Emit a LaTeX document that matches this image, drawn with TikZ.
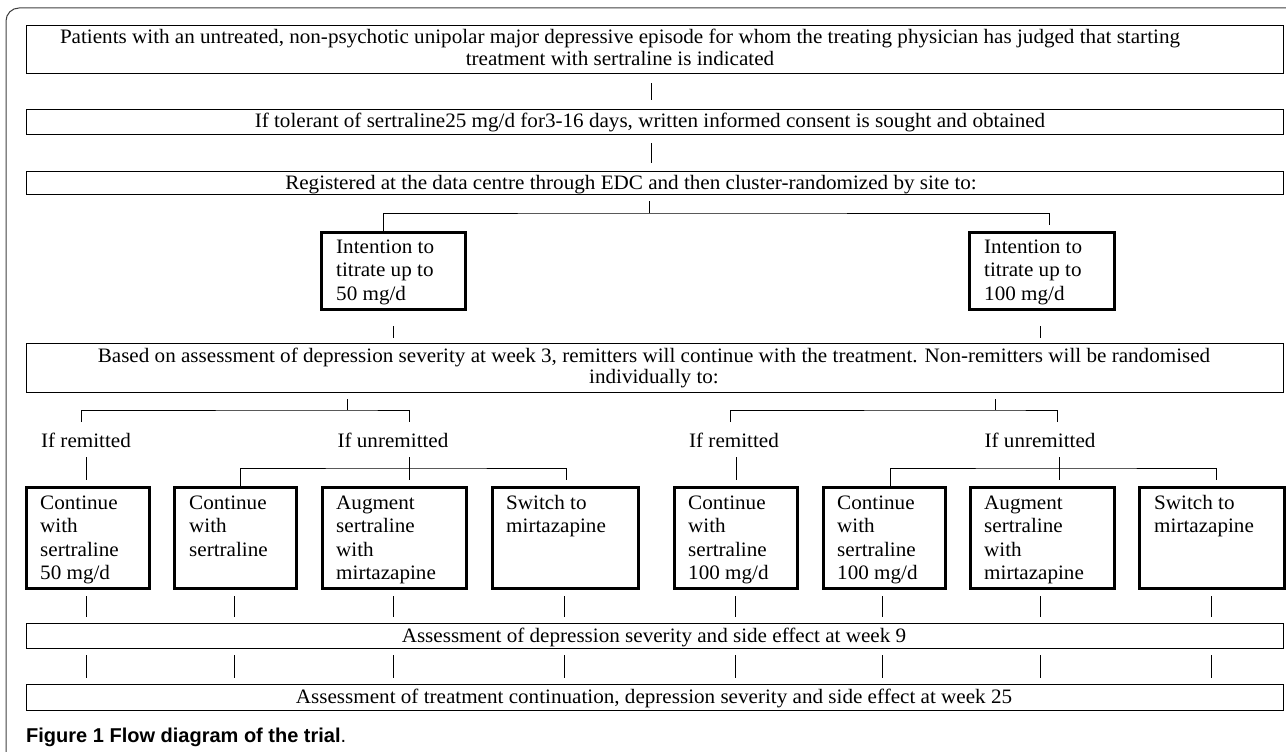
\documentclass[tikz,border=0pt]{standalone}
\usepackage{fontspec}
\setmainfont[FakeStretch=1.03]{Liberation Serif}
\newfontfamily\capfont{Liberation Sans}
\begin{document}
\begin{tikzpicture}[x=1pt,y=-1pt,
  wide/.style={draw, line width=1.1pt, anchor=north west, inner sep=0pt, minimum width=1257pt},
  tbox/.style={draw, line width=3.4pt, anchor=north west, inner sep=0pt, minimum height=101pt},
  ibox/.style={draw, line width=3.4pt, anchor=north west, inner sep=0pt, minimum height=77pt},
  conn/.style={line width=1pt},
  tx/.style={inner sep=0pt, anchor=base, font=\fontsize{20.5}{22}\selectfont},
  ltx/.style={inner sep=0pt, anchor=base west, align=left, font=\fontsize{20.5}{23.5}\selectfont},
]
\useasboundingbox (0,0) rectangle (1286,752);
\draw[line width=1pt, black!75, rounded corners=13pt] (6,752) -- (6,8) -- (1286,8);

% wide boxes
\node[wide, minimum height=48pt] (b1) at (26,25) {};
\node[wide, minimum height=25pt] (b2) at (26,109) {};
\node[wide, minimum height=23pt] (b3) at (26,171) {};
\node[wide, minimum height=49pt] (b4) at (26,343) {};
\node[wide, minimum height=25pt] (b9) at (26,623) {};
\node[wide, minimum height=26pt] (b25) at (26,684) {};

\node[tx, align=center] (t1) at (620,66) {Patients with an untreated, non-psychotic unipolar major depressive episode for whom the treating physician has judged that starting\\treatment with sertraline is indicated};
\node[tx] (t2) at (650,127) {If tolerant of sertraline25 mg/d for3-16 days, written informed consent is sought and obtained};
\node[tx] (t3) at (631,189) {Registered at the data centre through EDC and then cluster-randomized by site to:};
\node[tx, align=center, font=\fontsize{20.5}{21}\selectfont] (t4) at (654,383) {Based on assessment of depression severity at week 3, remitters will continue with the treatment. Non-remitters will be randomised\\individually to:};
\node[tx] (t9) at (654,642) {Assessment of depression severity and side effect at week 9};
\node[tx] (t25) at (654,703) {Assessment of treatment continuation, depression severity and side effect at week 25};

% intention boxes
\node[ibox, minimum width=144pt] (IL) at (320,231) {};
\node[ibox, minimum width=145pt] (IR) at (968,231) {};
\node[ltx] (tIL) at (336,300) {Intention to\\titrate up to\\50 mg/d};
\node[ltx] (tIR) at (984,300) {Intention to\\titrate up to\\100 mg/d};

% labels
\node[tx] (rL) at (86,447) {If remitted};
\node[tx] (uL) at (393,447) {If unremitted};
\node[tx] (rR) at (734,447) {If remitted};
\node[tx] (uR) at (1040,447) {If unremitted};

% bottom boxes
\node[tbox, minimum width=123pt] (A) at (25,486) {};
\node[tbox, minimum width=122pt] (B) at (173,486) {};
\node[tbox, minimum width=144pt] (C) at (321,486) {};
\node[tbox, minimum width=146pt] (D) at (491,486) {};
\node[tbox, minimum width=123pt] (E) at (673,486) {};
\node[tbox, minimum width=122pt] (F) at (822,486) {};
\node[tbox, minimum width=144pt] (G) at (969,486) {};
\node[tbox, minimum width=145pt] (H) at (1138,486) {};

\node[ltx] (tA) at (40,579.5) {Continue\\with\\sertraline\\50 mg/d};
\node[ltx] (tB) at (189,556) {Continue\\with\\sertraline};
\node[ltx] (tC) at (336,579.5) {Augment\\sertraline\\with\\mirtazapine};
\node[ltx] (tD) at (506,532.5) {Switch to\\mirtazapine};
\node[ltx] (tE) at (688,579.5) {Continue\\with\\sertraline\\100 mg/d};
\node[ltx] (tF) at (837,579.5) {Continue\\with\\sertraline\\100 mg/d};
\node[ltx] (tG) at (984,579.5) {Augment\\sertraline\\with\\mirtazapine};
\node[ltx] (tH) at (1154,532.5) {Switch to\\mirtazapine};

% caption
\node[inner sep=0pt, anchor=base west, font=\capfont\fontsize{20}{22}\selectfont] (cap) at (26,742) {\textbf{Figure 1 Flow diagram of the trial}.};

% connectors top
\draw[conn, shorten <=9pt, shorten >=9pt] (b1.south -| 651,0) -- (b2.north -| 651,0);
\draw[conn, shorten <=8pt, shorten >=8pt] (b2.south -| 651,0) -- (b3.north -| 651,0);
\coordinate (s1) at (649,213);
\draw[conn, shorten <=6pt] (b3.south -| s1) -- (s1);
\draw[conn, shorten >=6pt] (IL.north -| 383,0) |- (s1) -| (IR.north -| 1049,0);
\draw[conn, shorten <=15pt, shorten >=5pt] (IL.south -| 393,0) -- (b4.north -| 393,0);
\draw[conn, shorten <=15pt, shorten >=5pt] (IR.south -| 1040,0) -- (b4.north -| 1040,0);

% split below b4
\coordinate (s2) at (347,410);
\coordinate (s3) at (995,410);
\draw[conn, shorten <=6pt] (b4.south -| s2) -- (s2);
\draw[conn] (81,422) |- (s2) -| (409,422);
\draw[conn, shorten <=6pt] (b4.south -| s3) -- (s3);
\draw[conn] (730,422) |- (s3) -| (1057,422);

% below labels
\draw[conn, shorten <=10pt, shorten >=6pt] (rL.base -| 86,0) -- (A.north -| 86,0);
\draw[conn, shorten <=10pt, shorten >=6pt] (rR.base -| 736,0) -- (E.north -| 736,0);
\coordinate (s4) at (409,468);
\coordinate (s5) at (1059,468);
\draw[conn, shorten <=10pt, shorten >=6pt] (uL.base -| s4) -- (C.north -| s4);
\draw[conn, shorten >=6pt] (B.north -| 240,0) |- (s4) -| (D.north -| 566,0);
\draw[conn, shorten <=10pt, shorten >=6pt] (uR.base -| s5) -- (G.north -| s5);
\draw[conn, shorten >=6pt] (F.north -| 890,0) |- (s5) -| (H.north -| 1216,0);

% below boxes
\foreach \n/\x in {A/86,B/234,C/393,D/564,E/735,F/882,G/1040,H/1211}{
  \draw[conn, shorten <=6pt, shorten >=6pt] (\n.south -| \x,0) -- (b9.north -| \x,0);
  \draw[conn, shorten <=6pt, shorten >=6pt] (b9.south -| \x,0) -- (b25.north -| \x,0);
}
\end{tikzpicture}
\end{document}
